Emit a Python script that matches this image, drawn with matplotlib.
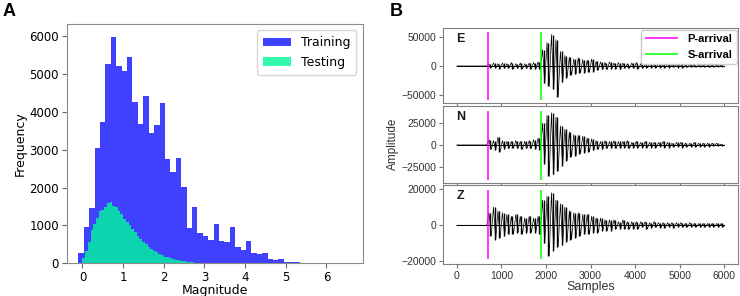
import numpy as np
import matplotlib.pyplot as plt

# ---- Panel A: magnitude histograms (counts read per bin) ----
train_start, train_width = -0.1, 0.133
train_counts = [280, 970, 1450, 3030, 3720, 5260, 5960, 5210, 5075, 5435,
                4250, 3680, 4400, 3450, 3650, 4230, 2760, 2420, 2770, 2005,
                925, 1480, 790, 720, 615, 1040, 590, 570, 970, 440,
                350, 580, 265, 240, 265, 130, 90, 130, 50, 35,
                35, 15, 10, 5, 5, 5, 3, 3, 2, 2]

test_start, test_width = 0.0, 0.0667
test_counts = [150, 340, 560, 880, 1050, 1200, 1370, 1400, 1500, 1600,
               1620, 1520, 1500, 1380, 1300, 1180, 1100, 1000, 920, 830,
               720, 650, 570, 500, 440, 380, 330, 290, 250, 220,
               180, 160, 140, 120, 100, 80, 70, 60, 45, 35,
               28, 22, 18, 14, 11, 9, 7, 5, 4, 3, 2]

# ---- Panel B: three-component waveform, peak/trough per 100 samples (x1000) ----
seg_len = 100
E_hi = [0, 0, 0, 0, 0, 0, 0, 3, 5, 4, 5, 4, 6, 4, 5, 4, 5, 6, 7, 28,
        40, 54, 45, 25, 18, 15, 12, 14, 11, 10, 12, 8, 7, 6, 7, 5, 6, 5, 4, 5,
        6, 4, 3, 4, 3, 4, 3, 3, 3, 3, 3, 2, 3, 2, 2, 2, 2, 2, 2, 1]
E_lo = [0, 0, 0, 0, 0, 0, 0, -3, -4, -5, -4, -4, -5, -4, -5, -4, -5, -5, -6, -30,
        -35, -40, -53, -28, -20, -16, -14, -12, -12, -11, -10, -7, -6, -6, -5, -5, -6, -4, -4, -4,
        -5, -4, -3, -3, -3, -3, -3, -3, -2, -3, -3, -2, -2, -2, -2, -2, -2, -2, -1, -1]
N_hi = [0, 0, 0, 0, 0, 0, 0, 6, 5, 9, 5, 4, 4, 5, 4, 4, 5, 6, 8, 25,
        34, 37, 32, 22, 18, 15, 12, 11, 10, 8, 7, 5, 4, 5, 4, 5, 4, 4, 5, 3,
        4, 3, 4, 3, 3, 3, 4, 3, 2, 3, 3, 2, 2, 3, 2, 2, 2, 2, 2, 1]
N_lo = [0, 0, 0, 0, 0, 0, 0, -5, -6, -8, -5, -4, -4, -4, -5, -4, -4, -5, -6, -22,
        -36, -34, -30, -24, -18, -14, -13, -10, -9, -8, -6, -5, -5, -4, -4, -4, -4, -3, -4, -3,
        -3, -3, -3, -3, -3, -2, -3, -3, -2, -2, -3, -2, -2, -2, -2, -2, -2, -1, -1, -1]
Z_hi = [0, 0, 0, 0, 0, 0, 0, 7, 10, 8, 7, 6, 5, 6, 5, 4, 5, 4, 5, 14,
        16, 18, 14, 12, 10, 8, 7, 7, 6, 6, 5, 4, 4, 3, 3, 3, 2, 3, 2, 2,
        2, 2, 2, 1.5, 2, 1.5, 1.5, 1.5, 1.5, 1.5, 1.5, 1, 1.5, 1, 1, 1, 1, 1, 1, 1]
Z_lo = [0, 0, 0, 0, 0, 0, 0, -6, -8, -7, -6, -5, -5, -4, -5, -4, -4, -4, -5, -10,
        -17, -14, -12, -11, -9, -8, -7, -6, -5, -5, -4, -4, -3, -3, -3, -2, -2, -2, -2, -2,
        -2, -1, -2, -1.5, -1, -1.5, -1.5, -1, -1.5, -1, -1, -1, -1, -1, -1, -1, -1, -1, -1, -1]

components = ["E", "N", "Z"]
traces = {"E": (E_hi, E_lo), "N": (N_hi, N_lo), "Z": (Z_hi, Z_lo)}
ylims = {"E": (-63000, 64500), "N": (-43400, 44900), "Z": (-21500, 22200)}
line_span = {"E": (-58000, 58000), "N": (-40000, 39500), "Z": (-18900, 19600)}
yticks = {"E": [-50000, 0, 50000], "N": [-25000, 0, 25000], "Z": [-20000, 0, 20000]}
p_arrival = 700
s_arrival = 1900

fig = plt.figure(figsize=(7.4, 2.96), dpi=100)

# ---------- A ----------
axA = fig.add_axes([0.090, 0.110, 0.400, 0.809])
tr_edges = train_start + train_width * np.arange(len(train_counts) + 1)
te_edges = test_start + test_width * np.arange(len(test_counts) + 1)
axA.stairs(train_counts, tr_edges, fill=True, color="blue", alpha=0.75, label="Training")
axA.stairs(test_counts, te_edges, fill=True, color="mediumspringgreen", alpha=0.8, label="Testing")
axA.set_xlim(-0.39, 6.89)
axA.set_ylim(0, 6310)
axA.set_xticks(range(0, 7))
axA.set_yticks(range(0, 6001, 1000))
axA.tick_params(labelsize=8.5, length=3.5, pad=2, color="0.4")
axA.set_xlabel("Magnitude", fontsize=9, labelpad=0)
axA.set_ylabel("Frequency", fontsize=9, labelpad=2)
for s in axA.spines.values():
    s.set_color("0.55")
axA.legend(loc="upper right", fontsize=9, handlelength=2.2, borderpad=0.5)
fig.text(0.004, 0.945, "A", fontsize=13, fontweight="bold", family="Liberation Sans")

# ---------- B ----------
boxes = [[0.599, 0.653, 0.398, 0.251],
         [0.599, 0.383, 0.398, 0.259],
         [0.599, 0.108, 0.398, 0.266]]
axes_B = []
for comp, box in zip(components, boxes):
    ax = fig.add_axes(box)
    hi = np.array(traces[comp][0]) * 1000.0
    lo = np.array(traces[comp][1]) * 1000.0
    n = len(hi)
    starts = np.arange(n) * seg_len
    # min/max bars per segment plus a zig-zag joining peaks and troughs
    ax.vlines(starts + seg_len / 2, lo, hi, color="black", lw=1.0)
    xs = np.column_stack([starts + 25, starts + 75]).ravel()
    ys = np.column_stack([hi, lo]).ravel()
    ax.plot(np.concatenate([[0], xs, [6000]]), np.concatenate([[0], ys, [0]]),
            color="black", lw=0.5)
    ax.plot([0, 6000], [0, 0], color="black", lw=0.7)
    lo_v, hi_v = line_span[comp]
    ax.vlines(p_arrival, lo_v, hi_v, color="magenta", lw=1.1, label="P-arrival")
    ax.vlines(s_arrival, lo_v, hi_v, color="lime", lw=1.1, label="S-arrival")
    ax.set_xlim(-300, 6300)
    ax.set_ylim(*ylims[comp])
    ax.set_yticks(yticks[comp])
    ax.set_xticks(range(0, 6001, 1000))
    ax.tick_params(labelsize=7.5, length=3, pad=2, color="0.45", labelcolor="0.2")
    for lab in ax.get_xticklabels() + ax.get_yticklabels():
        lab.set_family("Liberation Sans")
    for s in ax.spines.values():
        s.set_color("0.5")
    ax.text(0.045, 0.86, comp, transform=ax.transAxes, fontsize=9, fontweight="bold",
            family="Liberation Sans", ha="left", va="center", color="0.1")
    if comp != "Z":
        ax.tick_params(labelbottom=False)
    axes_B.append(ax)

axes_B[0].legend(loc="upper right", prop={"family": "Liberation Sans", "weight": "bold", "size": 8},
                 handlelength=3, borderpad=0.4, borderaxespad=0.1, framealpha=1)
axes_B[1].set_ylabel("Amplitude", fontsize=8.5, family="Liberation Sans", color="0.2", labelpad=2)
axes_B[2].set_xlabel("Samples", fontsize=9, family="Liberation Sans", color="0.2", labelpad=0)
fig.text(0.527, 0.945, "B", fontsize=13, fontweight="bold", family="Liberation Sans")

fig.savefig("out.png", dpi=100)
